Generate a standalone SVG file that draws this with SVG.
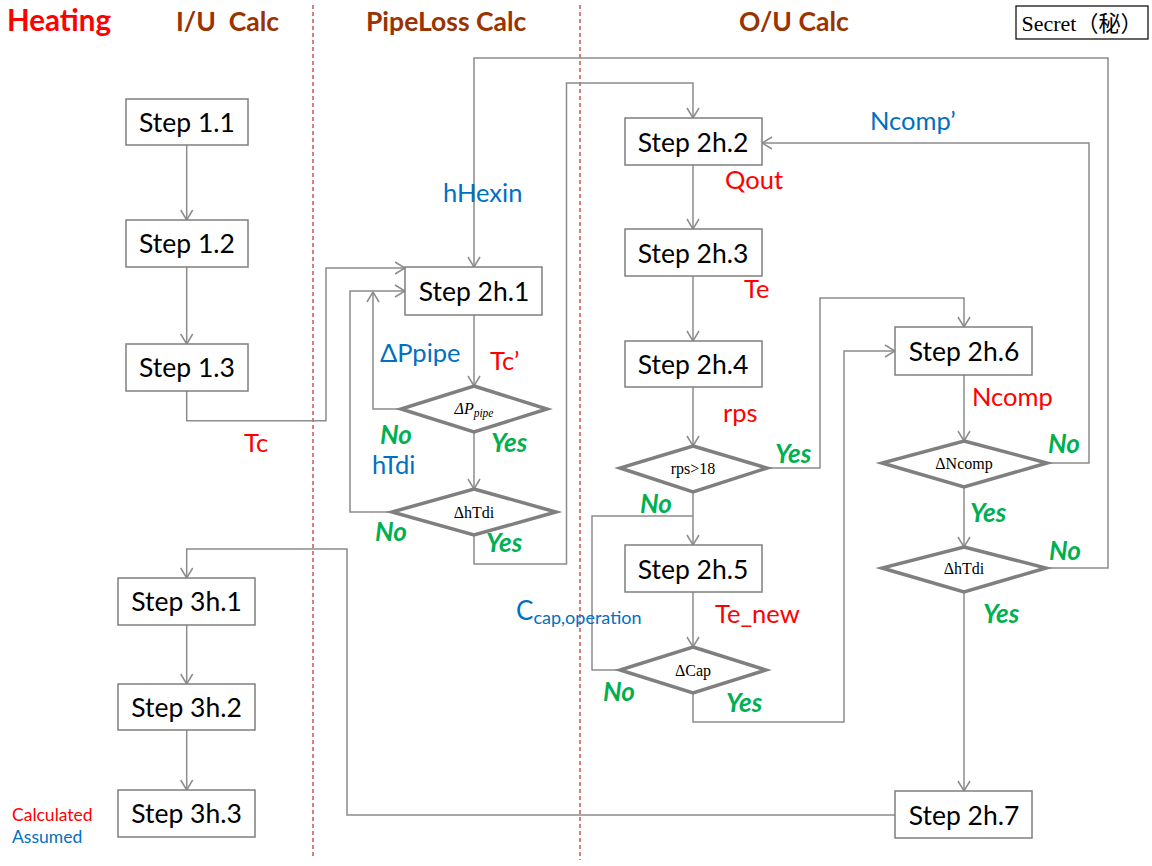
<svg xmlns="http://www.w3.org/2000/svg" width="1152" height="866" viewBox="0 0 1152 866">
<style>
.box{fill:#fff;stroke:#7f7f7f;stroke-width:1.5}
.dia{fill:#fff;stroke:#7f7f7f;stroke-width:3.5;stroke-linejoin:miter}
.st{font-family:Lato,"Liberation Sans",sans-serif;font-size:26.5px;fill:#000;text-anchor:middle}
.dt{font-family:"Liberation Serif","Times New Roman",serif;font-size:16px;fill:#000;text-anchor:middle}
.con{fill:none;stroke:#8c8c8c;stroke-width:1.5}
.arr{marker-end:url(#ah)}
.lb{font-family:Lato,"Liberation Sans",sans-serif;font-size:25.5px}
.blue{fill:#0070c0}
.red{fill:#ff0000}
.grn{font-family:Lato,"Liberation Sans",sans-serif;font-size:26px;font-weight:bold;font-style:italic;fill:#00b050}
.hd{font-family:Lato,"Liberation Sans",sans-serif;font-size:26.5px;font-weight:bold;fill:#993300;white-space:pre}
.sep{stroke:#b00000;stroke-width:1;stroke-dasharray:4,3}
</style>
<defs>
<marker id="ah" markerUnits="userSpaceOnUse" markerWidth="14" markerHeight="14" viewBox="-12 -7 14 14" refX="0" refY="0" orient="auto">
<path d="M-10,-6 L0,0 L-10,6" fill="none" stroke="#8c8c8c" stroke-width="1.5"/>
</marker>
</defs>
<rect width="1152" height="866" fill="#fff"/>

<g id="separators">
<line class="sep" x1="313" y1="5" x2="313" y2="858"/>
<line class="sep" x1="580" y1="5" x2="580" y2="860"/>
</g>

<g id="headers">
<text x="7" y="31" class="hd" style="fill:#ff0000;font-size:29.5px">Heating</text>
<text x="176" y="31" class="hd">I/U  Calc</text>
<text x="366" y="31" class="hd">PipeLoss Calc</text>
<text x="739" y="31" class="hd">O/U Calc</text>
</g>

<g id="secret">
<rect x="1016" y="6" width="132" height="33" fill="#fff" stroke="#000" stroke-width="1.2"/>
<text x="1082" y="31" text-anchor="middle" font-family="'Liberation Serif','Noto Sans CJK JP',serif" font-size="22">Secret（秘）</text>
</g>

<g id="connectors">
<path class="con arr" d="M186.7,145 V220"/>
<path class="con arr" d="M186.7,267 V344"/>
<path class="con arr" d="M186.7,391 V420.7 H326 V268 H405"/>
<path class="con arr" d="M1046,568 H1108 V58 H474 V267"/>
<path class="con arr" d="M474,315 V386"/>
<path class="con arr" d="M401,409 H373 V292"/>
<path class="con arr" d="M474,432 V489"/>
<path class="con arr" d="M392,512 H350 V291 H405"/>
<path class="con arr" d="M474,535 V564 H566.5 V83 H693 V118"/>
<path class="con arr" d="M693,165 V229"/>
<path class="con arr" d="M693,276 V341"/>
<path class="con arr" d="M693,387 V446"/>
<path class="con arr" d="M767,468 H820 V298 H964 V327"/>
<path class="con arr" d="M693,492 V545"/>
<path class="con arr" d="M693,592 V647"/>
<path class="con" d="M620,670 H592 V516 H693"/>
<path class="con arr" d="M693,693 V722 H844 V351 H895"/>
<path class="con arr" d="M964,375 V441"/>
<path class="con arr" d="M1047,463 H1089 V143 H762"/>
<path class="con arr" d="M964,487 V547"/>
<path class="con arr" d="M964,592 V791"/>
<path class="con arr" d="M895,815 H347 V549 H186.7 V578"/>
<path class="con arr" d="M186.7,625 V684"/>
<path class="con arr" d="M186.7,730 V790"/>
</g>

<g id="step11"><rect class="box" x="126" y="99" width="122" height="46"/><text class="st" x="187" y="132">Step 1.1</text></g>
<g id="step12"><rect class="box" x="126" y="220" width="122" height="47"/><text class="st" x="187" y="253">Step 1.2</text></g>
<g id="step13"><rect class="box" x="126" y="344" width="122" height="47"/><text class="st" x="187" y="377">Step 1.3</text></g>
<g id="step3h1"><rect class="box" x="118" y="578" width="137" height="47"/><text class="st" x="186.5" y="611">Step 3h.1</text></g>
<g id="step3h2"><rect class="box" x="118" y="684" width="137" height="46"/><text class="st" x="186.5" y="717">Step 3h.2</text></g>
<g id="step3h3"><rect class="box" x="118" y="790" width="137" height="47"/><text class="st" x="186.5" y="823">Step 3h.3</text></g>

<g id="step2h1"><rect class="box" x="405" y="267" width="137" height="48"/><text class="st" x="474" y="301">Step 2h.1</text></g>
<g id="dpipe"><polygon class="dia" points="474,386 547,409 474,432 401,409"/><text class="dt" x="474" y="414" font-style="italic" font-size="17">ΔP<tspan font-size="11.5" dy="3">pipe</tspan></text></g>
<g id="dhtdi1"><polygon class="dia" points="474,489 556,512 474,535 392,512"/><text class="dt" x="474" y="518">ΔhTdi</text></g>

<g id="step2h2"><rect class="box" x="625" y="118" width="137" height="47"/><text class="st" x="693" y="152">Step 2h.2</text></g>
<g id="step2h3"><rect class="box" x="625" y="229" width="137" height="47"/><text class="st" x="693" y="263">Step 2h.3</text></g>
<g id="step2h4"><rect class="box" x="625" y="341" width="137" height="46"/><text class="st" x="693" y="374">Step 2h.4</text></g>
<g id="rps"><polygon class="dia" points="693,446 767,468 693,492 620,468"/><text class="dt" x="693" y="474">rps&gt;18</text></g>
<g id="step2h5"><rect class="box" x="625" y="545" width="137" height="47"/><text class="st" x="693" y="579">Step 2h.5</text></g>
<g id="dcap"><polygon class="dia" points="693,647 766,670 693,693 620,670"/><text class="dt" x="693" y="676">ΔCap</text></g>

<g id="step2h6"><rect class="box" x="895" y="327" width="137" height="48"/><text class="st" x="964" y="361">Step 2h.6</text></g>
<g id="dncomp"><polygon class="dia" points="964,441 1047,463 964,487 882,463"/><text class="dt" x="964" y="469">ΔNcomp</text></g>
<g id="dhtdi2"><polygon class="dia" points="964,547 1046,568 964,592 882,568"/><text class="dt" x="964" y="574">ΔhTdi</text></g>
<g id="step2h7"><rect class="box" x="895" y="791" width="137" height="47"/><text class="st" x="964" y="825">Step 2h.7</text></g>

<g id="labels">
<text class="lb blue" x="443" y="202">hHexin</text>
<text class="lb blue" x="380" y="362">ΔPpipe</text>
<text class="lb red" x="490" y="370">Tc’</text>
<text class="lb red" x="244" y="452">Tc</text>
<text class="lb blue" x="372" y="474">hTdi</text>
<text class="lb blue" x="870" y="130">Ncomp’</text>
<text class="lb red" x="725" y="189">Qout</text>
<text class="lb red" x="744" y="298">Te</text>
<text class="lb red" x="723" y="422">rps</text>
<text class="lb red" x="972" y="406">Ncomp</text>
<text class="lb red" x="715" y="623">Te_new</text>
<text class="lb blue" x="516" y="620" style="font-size:26px">C<tspan font-size="18" dy="4">cap,operation</tspan></text>
<text class="grn" x="380" y="444">No</text>
<text class="grn" x="491" y="452">Yes</text>
<text class="grn" x="375" y="541">No</text>
<text class="grn" x="486" y="552">Yes</text>
<text class="grn" x="775" y="463">Yes</text>
<text class="grn" x="640" y="513">No</text>
<text class="grn" x="603" y="701">No</text>
<text class="grn" x="726" y="712">Yes</text>
<text class="grn" x="1048" y="453">No</text>
<text class="grn" x="970" y="522">Yes</text>
<text class="grn" x="1049" y="560">No</text>
<text class="grn" x="983" y="623">Yes</text>
</g>

<g id="legend">
<text x="12" y="821" font-family="Lato,'Liberation Sans',sans-serif" font-size="17.5" fill="#ff0000">Calculated</text>
<text x="12" y="843" font-family="Lato,'Liberation Sans',sans-serif" font-size="17.5" fill="#0070c0">Assumed</text>
</g>
</svg>
